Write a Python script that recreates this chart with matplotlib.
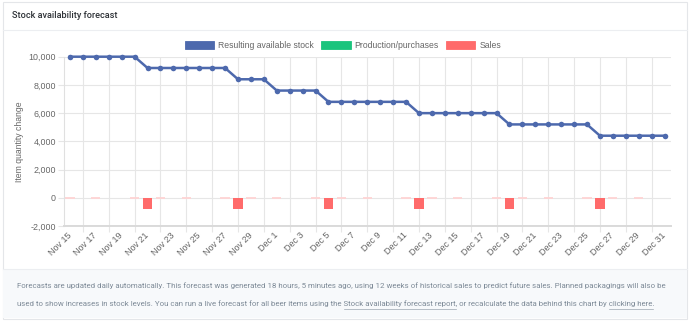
import matplotlib
matplotlib.use('Agg')
import matplotlib.pyplot as plt
from matplotlib.patches import Rectangle, Patch
from matplotlib.lines import Line2D

# Data
days = [f'Nov {d}' for d in range(15, 31)] + [f'Dec {d}' for d in range(1, 32)]
stock = [10000, 10000, 10000, 10000, 10000, 10000,
         9200, 9200, 9200, 9200, 9200, 9200, 9200,
         8400, 8400, 8400,
         7600, 7600, 7600, 7600,
         6800, 6800, 6800, 6800, 6800, 6800, 6800,
         6000, 6000, 6000, 6000, 6000, 6000, 6000,
         5200, 5200, 5200, 5200, 5200, 5200, 5200,
         4400, 4400, 4400, 4400, 4400, 4400]
sales = [0, None, 0, None, None, 0, -800,
         0, None, 0, None, None, 0, -800,
         0, None, 0, None, None, 0, -800,
         0, None, 0, None, None, 0, -800,
         0, None, 0, None, None, 0, -800,
         0, None, 0, None, None, 0, -800,
         0, None, 0, None, None]
production = [None] * len(days)
yticks = [-2000, 0, 2000, 4000, 6000, 8000, 10000]

title = 'Stock availability forecast'
ylabel = 'Item quantity change'
legend_labels = ['Resulting available stock', 'Production/purchases', 'Sales']
foot1 = ('Forecasts are updated daily automatically. This forecast was generated 18 hours, '
         '5 minutes ago, using 12 weeks of historical sales to predict future sales. '
         'Planned packagings will also be')
foot2_parts = ['used to show increases in stock levels. You can run a live forecast for all beer '
               'items using the ', 'Stock availability forecast report',
               ', or recalculate the data behind this chart by ', 'clicking here', '.']

BLUE = '#4d69ad'
GREEN = '#1bc47d'
RED = '#ff6b6b'
GRID = '#e6e6e6'
TICK = '#666666'

W, H = 690, 323
fig = plt.figure(figsize=(W / 100, H / 100), dpi=100, facecolor='white')

def px(x0, y0, w, h):
    # pixel box (top-left origin) -> figure coords
    return (x0 / W, 1 - (y0 + h) / H), w / W, h / H

# card, header rule, footer
xy, w, h = px(2.5, 1.5, 684.5, 317)
fig.add_artist(Rectangle(xy, w, h, transform=fig.transFigure, facecolor='white',
                         edgecolor='#e4e6e9', lw=0.8, zorder=0))
xy, w, h = px(3, 269, 683.5, 49)
fig.add_artist(Rectangle(xy, w, h, transform=fig.transFigure, facecolor='#f7f9fb',
                         edgecolor='none', zorder=0.5))
fig.add_artist(Line2D([3 / W, 687 / W], [1 - 269 / H] * 2, transform=fig.transFigure,
                      color='#eceef1', lw=0.8, zorder=0.6))
fig.add_artist(Line2D([3 / W, 687 / W], [1 - 29.5 / H] * 2, transform=fig.transFigure,
                      color='#eceef1', lw=0.8, zorder=0.6))

fig.text(12 / W, 1 - 16 / H, title, family='Roboto', weight='medium', fontsize=6.6,
         color='#2f3338', va='center', ha='left')

# chart
ax = fig.add_axes([63.5 / W, 1 - 226 / H, 607.5 / W, (226 - 56.7) / H])
ax.set_facecolor('none')
x = list(range(len(days)))
ax.set_xlim(-0.5, len(days) - 0.5)
ax.set_ylim(yticks[0], yticks[-1])

big_x = [i for i, v in enumerate(sales) if v is not None and v != 0]
big_v = [sales[i] for i in big_x]
zero_x = [i for i, v in enumerate(sales) if v == 0]
ax.bar(big_x, big_v, width=0.72, color=RED, zorder=2)
ax.bar(zero_x, [sales[i] for i in zero_x], width=0.72, color='#ffd4d4',
       edgecolor='#ffd4d4', lw=1.3, zorder=2)

ax.plot(x, stock, color=BLUE, lw=1.8, marker='o', ms=4.0, mew=0, zorder=3, clip_on=False)

ax.set_yticks(yticks)
ax.set_yticklabels([f'{v:,}' for v in yticks])
ax.yaxis.grid(True, color=GRID, lw=0.8)
ax.set_xticks([i for i in x if i % 2 == 1])
ax.set_xticklabels([])
ax.set_xticks([i for i in x if i % 2 == 0], minor=True)
ax.set_xticklabels([days[i] for i in x if i % 2 == 0], minor=True, rotation=45,
                   ha='right', va='center', rotation_mode='anchor')
ax.xaxis.grid(True, which='major', color=GRID, lw=0.8)
ax.set_axisbelow(True)
ax.tick_params(axis='x', which='major', length=4.5, color=GRID, width=0.8)
ax.tick_params(axis='x', which='minor', length=0, pad=5.5, labelsize=6.5, labelcolor=TICK)
ax.tick_params(axis='y', length=4, color=GRID, width=0.8, pad=1.5, labelsize=6.4,
               labelcolor=TICK)
for lab in ax.get_xticklabels(minor=True) + ax.get_yticklabels():
    lab.set_family('Liberation Sans')
for s in ['top', 'right']:
    ax.spines[s].set_visible(False)
ax.spines['left'].set_color('#e0e0e0')
ax.spines['left'].set_lw(0.8)
ax.spines['bottom'].set_color('#dadada')
ax.spines['bottom'].set_lw(1.4)

fig.text(20 / W, 1 - 142 / H, ylabel, rotation=90, va='center', ha='center',
         family='Liberation Sans', fontsize=6.2, color=TICK)

handles = [Patch(facecolor=BLUE, edgecolor=BLUE, lw=0.6),
           Patch(facecolor=GREEN, edgecolor=GREEN, lw=0.6),
           Patch(facecolor=RED, edgecolor=RED, lw=0.6)]
leg = fig.legend(handles, legend_labels, loc='center', bbox_to_anchor=(343 / W, 1 - 45.5 / H),
                 ncol=3, frameon=False, prop={'family': 'Liberation Sans', 'size': 6.2},
                 handlelength=3.4, handleheight=1.1, handletextpad=0.45, columnspacing=0.85,
                 labelcolor=TICK, borderaxespad=0, borderpad=0)

# footer text with underlined links
renderer = fig.canvas.get_renderer()
FOOT = dict(family='Roboto', fontsize=5.68, color='#7d8a97', va='center', ha='left')

def text_w(s):
    t = fig.text(0, 0, s, **FOOT)
    wd = t.get_window_extent(renderer).width
    t.remove()
    return wd

fig.text(17.3 / W, 1 - 285.3 / H, foot1, **FOOT)
line2 = ''.join(foot2_parts)
fig.text(17.3 / W, 1 - 303.7 / H, line2, **FOOT)
ref = text_w('|')
for k, part in enumerate(foot2_parts):
    prefix = ''.join(foot2_parts[:k])
    start = text_w(prefix + '|') - ref if prefix else 0.0
    if k in (1, 3):
        end = start + text_w(part)
        fig.add_artist(Line2D([(17.3 + start) / W, (17.3 + end) / W], [1 - 308.5 / H] * 2,
                              transform=fig.transFigure, color='#9aa5b0', lw=0.5))

fig.savefig('out.png', dpi=100, facecolor='white')
